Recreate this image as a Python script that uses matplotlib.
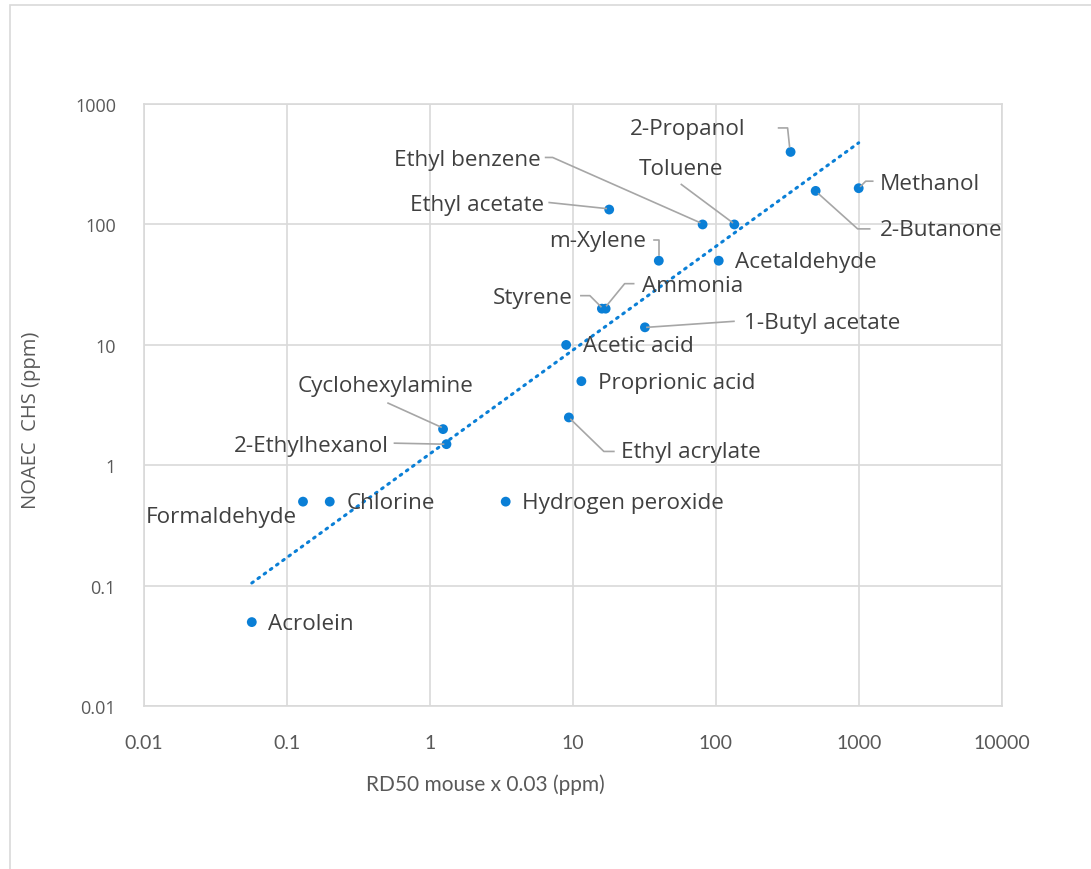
import numpy as np
import matplotlib
matplotlib.use("Agg")
import matplotlib.pyplot as plt
from matplotlib.transforms import IdentityTransform
from matplotlib.patches import Rectangle

# RD50 (mouse) x 0.03 vs NOAEC from controlled human studies, both in ppm
names = ["2-Propanol", "Toluene", "Ethyl benzene", "Ethyl acetate", "Methanol",
         "2-Butanone", "m-Xylene", "Acetaldehyde", "Ammonia", "Styrene",
         "1-Butyl acetate", "Acetic acid", "Proprionic acid", "Ethyl acrylate",
         "Cyclohexylamine", "2-Ethylhexanol", "Formaldehyde", "Chlorine",
         "Hydrogen peroxide", "Acrolein"]
rd50 = [334, 135, 81, 18, 1000, 500, 40, 105, 17, 16,
        32, 9, 11.5, 9.4, 1.24, 1.31, 0.13, 0.2, 3.4, 0.057]
noaec = [400, 100, 100, 133, 200, 190, 50, 50, 20, 20,
         14, 10, 5, 2.5, 2, 1.5, 0.5, 0.5, 0.5, 0.05]

# label placement: text offset from the point (pixels, y down), alignment,
# and the leader line as offsets from the point
layout = {
    "2-Propanol": (-45, -23, "right", [(-12, -24), (-3, -24), (-1, -5)]),
    "Toluene": (-53, -56, "center", [(-53, -40), (-2, -2)]),
    "Ethyl benzene": (-162, -65, "right", [(-157, -67), (-150, -67), (-3, -2)]),
    "Ethyl acetate": (-65, -5, "right", [(-60, -7), (-3, -1)]),
    "Methanol": (21, -5, "left", [(14, -7), (7, -7), (2, -2)]),
    "2-Butanone": (64, 39, "left", [(54, 38), (42, 38), (3, 3)]),
    "m-Xylene": (-13, -20, "right", [(-5, -21), (0, -21), (0, -6)]),
    "Acetaldehyde": (16, 1, "left", None),
    "Ammonia": (36, -23, "left", [(28, -25), (19, -25), (1, -3)]),
    "Styrene": (-29, -11, "right", [(-21, -13), (-12, -13), (-1, -2)]),
    "1-Butyl acetate": (99, -5, "left", [(89, -6), (2, 0)]),
    "Acetic acid": (17, 1, "left", None),
    "Proprionic acid": (17, 1, "left", None),
    "Ethyl acrylate": (52, 34, "left", [(45, 34), (35, 34), (2, 2)]),
    "Cyclohexylamine": (-57, -44, "center", [(-55, -26), (-2, -2)]),
    "2-Ethylhexanol": (-58, 1, "right", [(-52, -1), (-3, 0)]),
    "Formaldehyde": (-6, 15, "right", None),
    "Chlorine": (17, 1, "left", None),
    "Hydrogen peroxide": (16, 1, "left", None),
    "Acrolein": (16, 1, "left", None),
}

W, H = 1091, 870
blue = "#0a7fd6"
txt = "#404040"
grid = "#d9d9d9"

fig = plt.figure(figsize=(W / 100, H / 100), dpi=100)
fig.patches.append(Rectangle((10, -10), W + 20, H + 10 - 6, transform=IdentityTransform(),
                             fill=False, edgecolor="#d9d9d9", lw=1.2))
ax = fig.add_axes([143.7 / W, 1 - 707.3 / H, (1001.7 - 143.7) / W, (707.3 - 105) / H])

ax.set_xscale("log")
ax.set_yscale("log")
ax.set_xlim(0.01, 10000)
ax.set_ylim(0.01, 1000)
xt = [0.01, 0.1, 1, 10, 100, 1000, 10000]
yt = [0.01, 0.1, 1, 10, 100, 1000]
ax.set_xticks(xt, [f"{v:g}" for v in xt], family="Lato", fontsize=14, color="#595959")
ax.set_yticks(yt, [f"{v:g}" for v in yt], family="Open Sans", fontsize=13, color="#595959")
ax.minorticks_off()
ax.tick_params(length=0)
ax.tick_params(axis="x", pad=20)
ax.tick_params(axis="y", pad=20)
ax.grid(True, color=grid, lw=1.2)
ax.set_axisbelow(True)
for s in ax.spines.values():
    s.set_color(grid)
    s.set_linewidth(1.2)

# power trendline, fitted in log-log space
lx, ly = np.log10(rd50), np.log10(noaec)
b, a = np.polyfit(lx, ly, 1)
xs = np.logspace(lx.min(), lx.max(), 50)
ax.plot(xs, 10 ** a * xs ** b, ls=(0, (0.6, 1.9)), color=blue, lw=2.2,
        dash_capstyle="round", zorder=2)

ax.scatter(rd50, noaec, s=50, color=blue, edgecolors="none", zorder=3)

fig.canvas.draw()
for name, x, y in zip(names, rd50, noaec):
    px, py = ax.transData.transform((x, y))
    dx, dy, ha, leader = layout[name]
    fig.text(px + dx, py - dy, name, transform=IdentityTransform(), ha=ha, va="center",
             family="Open Sans", fontsize=16.2, color=txt)
    if leader:
        lxs = [px + ox for ox, oy in leader]
        lys = [py - oy for ox, oy in leader]
        fig.add_artist(plt.Line2D(lxs, lys, transform=IdentityTransform(),
                                  color="#a6a6a6", lw=1.2))

fig.text(485, H - 785, "RD50 mouse x 0.03 (ppm)", transform=IdentityTransform(),
         ha="center", va="center", family="Lato", fontsize=15, color="#595959")
fig.text(31, H - 420, "NOAEC  CHS (ppm)", transform=IdentityTransform(),
         ha="center", va="center", rotation=90, family="Open Sans", fontsize=14.5,
         color="#595959")

fig.savefig("out.png", dpi=100)
